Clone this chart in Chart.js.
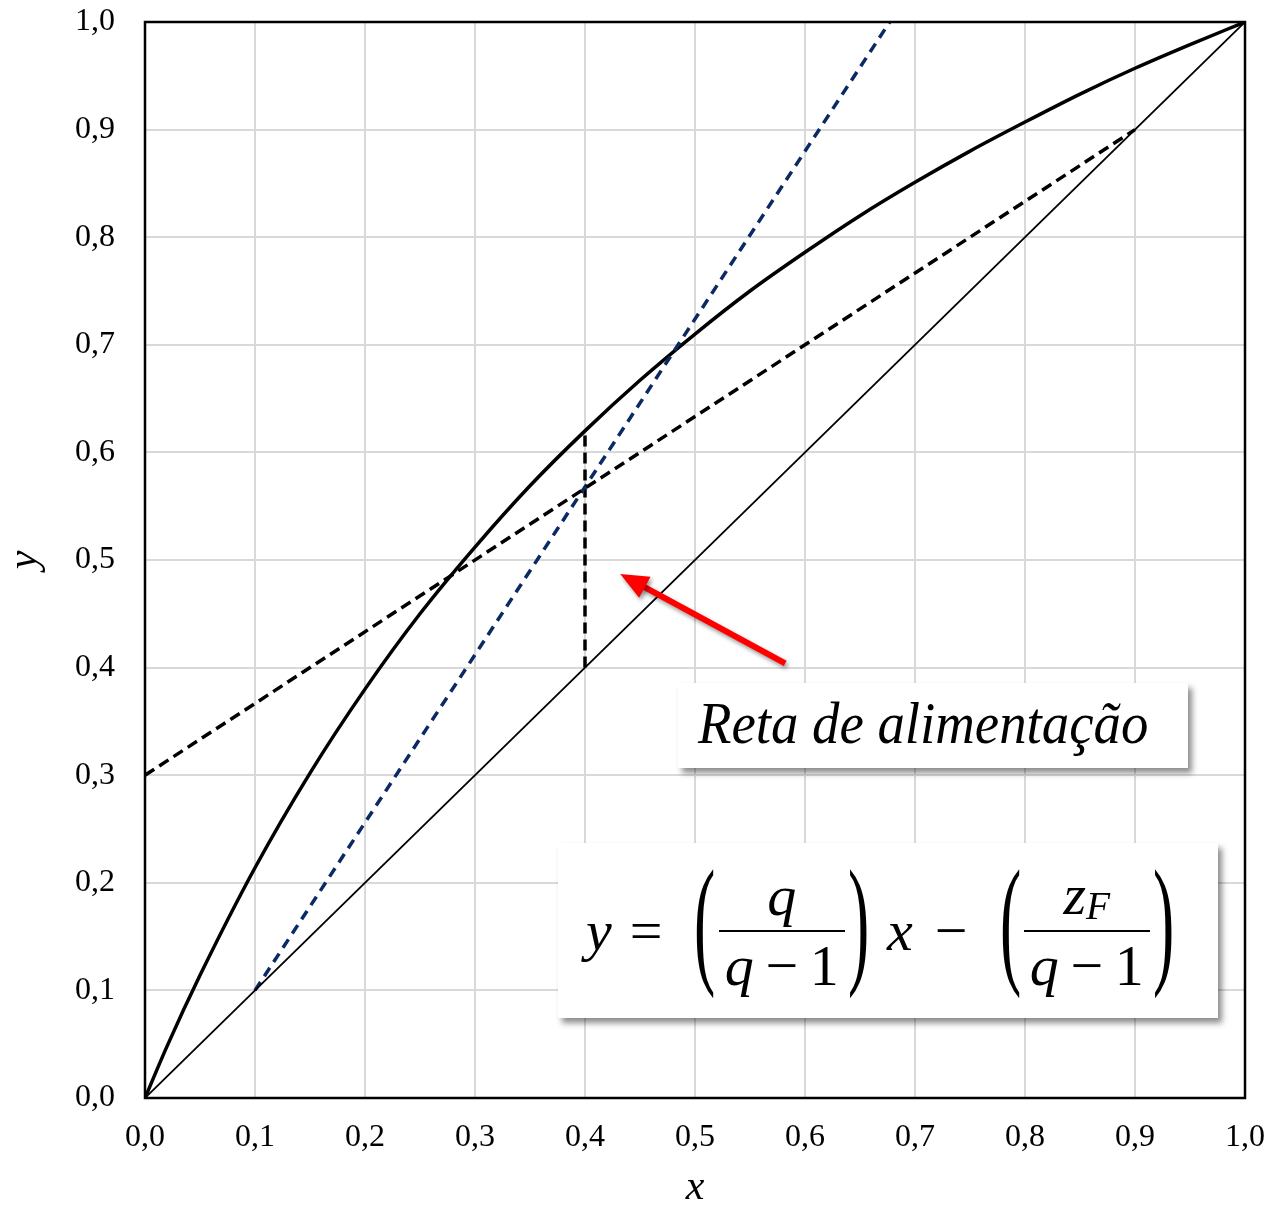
<!DOCTYPE html>
<html>
<head>
<meta charset="utf-8">
<script src="https://cdn.jsdelivr.net/npm/chart.js@4.4.1/dist/chart.umd.min.js"></script>
<style>
  body { margin: 0; background: #fff; }
  #wrap { position: relative; width: 1271px; height: 1209px; }
  .box { position: absolute; background: #fff; box-shadow: 4px 5px 6px rgba(0,0,0,0.45); }
  #feed-label { left: 678px; top: 683px; width: 510px; height: 85px; overflow: visible; }
  #feed-label span {
    position: absolute; left: 20px; top: 6px; line-height: 85px;
    font: italic 60px "Liberation Serif"; white-space: nowrap; transform-origin: left center;
  }
  #eq {
    left: 558px; top: 843px; width: 660px; height: 175px; box-sizing: border-box;
    padding-left: 28px; display: flex; align-items: center;
    font: 58px "Liberation Serif"; color: #000;
  }
  #eq i { font-style: italic; }
  #eq .eqs { margin: 0 30px 0 18px; }
  #eq .minus { margin: 0 30px 0 22px; }
  #eq .par { display: inline-block; transform: translateY(-10px) scale(1.1, 2.45); margin: 0 3px; }
  #eq .frac { display: flex; flex-direction: column; text-align: center; margin: 0 1px; }
  #eq .num { border-bottom: 2.5px solid #000; line-height: 1.1; padding: 0 6px 2px; }
  #eq .den { line-height: 1.1; padding: 2px 6px 0; }
  #eq .den .op { margin: 0 0.2em; }
  #eq sub { font-size: 0.68em; font-style: italic; vertical-align: -0.12em; }
</style>
</head>
<body>
<div id="wrap">
  <canvas id="chart"></canvas>
  <div id="feed-label" class="box"><span>Reta de alimentação</span></div>
  <div id="eq" class="box">
    <i>y</i><span class="eqs">=</span>
    <span class="par">(</span>
    <span class="frac"><span class="num"><i>q</i></span><span class="den"><i>q</i><span class="op">−</span>1</span></span>
    <span class="par">)</span>
    <i style="margin-left:16px">x</i><span class="minus">−</span>
    <span class="par">(</span>
    <span class="frac"><span class="num"><i>z</i><sub>F</sub></span><span class="den"><i>q</i><span class="op">−</span>1</span></span>
    <span class="par">)</span>
  </div>
</div>
<script>
// equilibrium curve
const eqX = [0, 0.02, 0.05, 0.1, 0.15, 0.2, 0.25, 0.3, 0.35, 0.4, 0.45, 0.5, 0.55, 0.6, 0.65, 0.7, 0.75, 0.8, 0.85, 0.9, 0.95, 1];
const eqY = [0, 0.048, 0.114, 0.214, 0.302, 0.38, 0.45, 0.512, 0.569, 0.62, 0.667, 0.71, 0.75, 0.786, 0.82, 0.851, 0.88, 0.907, 0.933, 0.957, 0.979, 1];

const diagX = [0, 1];
const diagY = [0, 1];

// rectifying line (black dashed)
const rectX = [0, 0.9];
const rectY = [0.3, 0.9];

// blue dashed line
const blueX = [0.1, 0.677];
const blueY = [0.1, 1.0];

// feed line (vertical dashed at zF)
const feedX = [0.4, 0.4];
const feedY = [0.4, 0.62];

// red arrow, tail -> head, in data units
const arrowFrom = [0.582, 0.404];
const arrowTo = [0.432, 0.487];

const tickValues = [0, 0.1, 0.2, 0.3, 0.4, 0.5, 0.6, 0.7, 0.8, 0.9, 1.0];
const tickLabels = ['0,0', '0,1', '0,2', '0,3', '0,4', '0,5', '0,6', '0,7', '0,8', '0,9', '1,0'];

const pts = (xs, ys) => xs.map((x, i) => ({ x, y: ys[i] }));

const framePlugin = {
  id: 'frame',
  afterDatasetsDraw(chart) {
    const { ctx, chartArea: a, scales } = chart;
    ctx.save();
    ctx.strokeStyle = '#000';
    ctx.lineWidth = 2.5;
    ctx.strokeRect(a.left, a.top, a.right - a.left, a.bottom - a.top);

    // arrow
    const x1 = scales.x.getPixelForValue(arrowFrom[0]);
    const y1 = scales.y.getPixelForValue(arrowFrom[1]);
    const x2 = scales.x.getPixelForValue(arrowTo[0]);
    const y2 = scales.y.getPixelForValue(arrowTo[1]);
    const ang = Math.atan2(y2 - y1, x2 - x1);
    const headLen = 28, headW = 12;
    const bx = x2 - headLen * Math.cos(ang), by = y2 - headLen * Math.sin(ang);
    ctx.shadowColor = 'rgba(0,0,0,0.4)';
    ctx.shadowBlur = 4;
    ctx.shadowOffsetX = 2;
    ctx.shadowOffsetY = 3;
    ctx.strokeStyle = '#ff0000';
    ctx.fillStyle = '#ff0000';
    ctx.lineWidth = 6;
    ctx.beginPath();
    ctx.moveTo(x1, y1);
    ctx.lineTo(bx + 4 * Math.cos(ang), by + 4 * Math.sin(ang));
    ctx.stroke();
    ctx.beginPath();
    ctx.moveTo(x2, y2);
    ctx.lineTo(bx + headW * Math.sin(ang), by - headW * Math.cos(ang));
    ctx.lineTo(bx - headW * Math.sin(ang), by + headW * Math.cos(ang));
    ctx.closePath();
    ctx.fill();
    ctx.restore();
  }
};

const tickFont = { family: '"Liberation Serif"', size: 32 };
const titleFont = { family: '"Liberation Serif"', size: 42, style: 'italic', lineHeight: 1.0 };

new Chart(document.getElementById('chart'), {
  type: 'scatter',
  data: {
    datasets: [
      { data: pts(diagX, diagY), borderColor: '#000', borderWidth: 1.8 },
      { data: pts(rectX, rectY), borderColor: '#000', borderWidth: 3.5, borderDash: [11, 6] },
      { data: pts(blueX, blueY), borderColor: '#0b2a63', borderWidth: 3.5, borderDash: [10, 7] },
      { data: pts(feedX, feedY), borderColor: '#000', borderWidth: 3.5, borderDash: [11, 6] },
      { data: pts(eqX, eqY), borderColor: '#000', borderWidth: 3.5, cubicInterpolationMode: 'monotone' }
    ].map(d => Object.assign({ showLine: true, pointRadius: 0, pointHoverRadius: 0, fill: false }, d))
  },
  options: {
    responsive: true,
    maintainAspectRatio: false,
    animation: false,
    events: [],
    layout: { padding: { left: 0, right: 26, top: 22, bottom: 0 } },
    plugins: { legend: { display: false }, tooltip: { enabled: false } },
    scales: {
      x: {
        type: 'linear', min: 0, max: 1,
        afterBuildTicks: s => { s.ticks = tickValues.map(v => ({ value: v })); },
        afterFit: s => { s.height = 111; s.paddingLeft = 0; s.paddingRight = 0; },
        ticks: { color: '#000', font: tickFont, padding: 20, maxRotation: 0, callback: (v, i) => tickLabels[i] },
        grid: { color: '#d9d9d9', lineWidth: 2, drawTicks: false },
        border: { display: false },
        title: { display: true, text: 'x', color: '#000', font: titleFont, padding: { top: 0, bottom: 0 } }
      },
      y: {
        type: 'linear', min: 0, max: 1,
        afterBuildTicks: s => { s.ticks = tickValues.map(v => ({ value: v })); },
        afterFit: s => { s.width = 145; s.paddingTop = 0; s.paddingBottom = 0; },
        ticks: { color: '#000', font: tickFont, padding: 30, callback: (v, i) => tickLabels[i] },
        grid: { color: '#d9d9d9', lineWidth: 2, drawTicks: false },
        border: { display: false },
        title: { display: true, text: 'y', color: '#000', font: titleFont, padding: { top: 4, bottom: 0 } }
      }
    }
  },
  plugins: [framePlugin]
});

// squeeze the label into the width it takes in the picture
const lbl = document.querySelector('#feed-label span');
lbl.style.transform = 'scaleX(' + (450 / lbl.scrollWidth).toFixed(3) + ')';
</script>
</body>
</html>
